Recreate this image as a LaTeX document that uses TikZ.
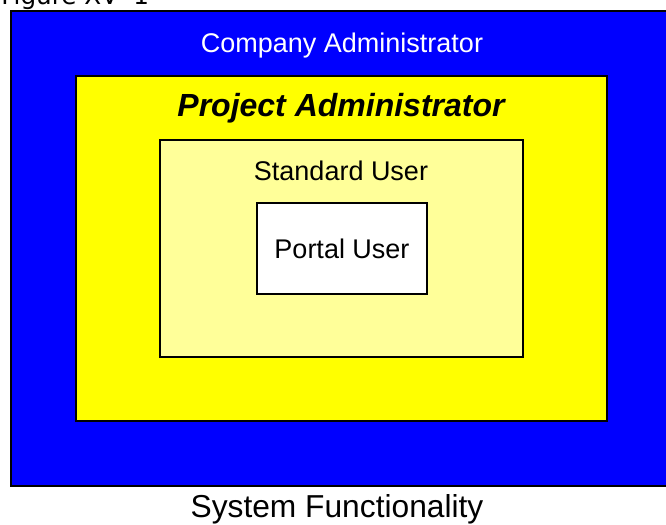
\documentclass[tikz,border=0pt]{standalone}
\usepackage{fontspec}
\setmainfont{Liberation Sans}
\newfontfamily\figfont{DejaVu Sans}
\usepackage{tikz}
\usetikzlibrary{positioning}
\definecolor{roleblue}{HTML}{0000FF}
\definecolor{roleyellow}{HTML}{FFFF00}
\definecolor{rolecream}{HTML}{FFFF99}

\begin{document}
\begin{tikzpicture}[
  x=0.75pt,y=-0.75pt,
  level/.style={draw=black,line width=1.5pt,inner sep=0pt},
  txt/.style={font=\fontsize{20.25}{24}\selectfont,anchor=base,inner sep=0pt},
  head/.style={font=\fontsize{24}{28}\selectfont\bfseries\itshape,anchor=base,inner sep=0pt}
]
\useasboundingbox (0,0) rectangle (666,524);

\node[level,fill=roleblue,minimum width=669*0.75pt,minimum height=475*0.75pt] (company) at (345.5,248.5) {};
\node[level,fill=roleyellow,minimum width=531*0.75pt,minimum height=345*0.75pt] (project) at (341.5,248.5) {};
\node[level,fill=rolecream,minimum width=363*0.75pt,minimum height=217*0.75pt] (standard) at (341.5,248.5) {};
\node[level,fill=white,minimum width=170*0.75pt,minimum height=91*0.75pt,
      font=\fontsize{20.25}{24}\selectfont] (portal) at (342,248.5) {Portal User};

\node[txt,text=white] (companylbl) at (342,53) {Company Administrator};
\node[head] (projectlbl) at (341,117) {Project Administrator};
\node[txt] (standardlbl) at (341,180) {Standard User};
\node[txt,font=\fontsize{23.8}{28}\selectfont] (system) at (337,517) {System Functionality};
\node[anchor=base west,inner sep=0pt,font=\figfont\fontsize{18.5}{22}\selectfont] (fig) at (1,5) {Figure XV- 1};
\end{tikzpicture}
\end{document}
